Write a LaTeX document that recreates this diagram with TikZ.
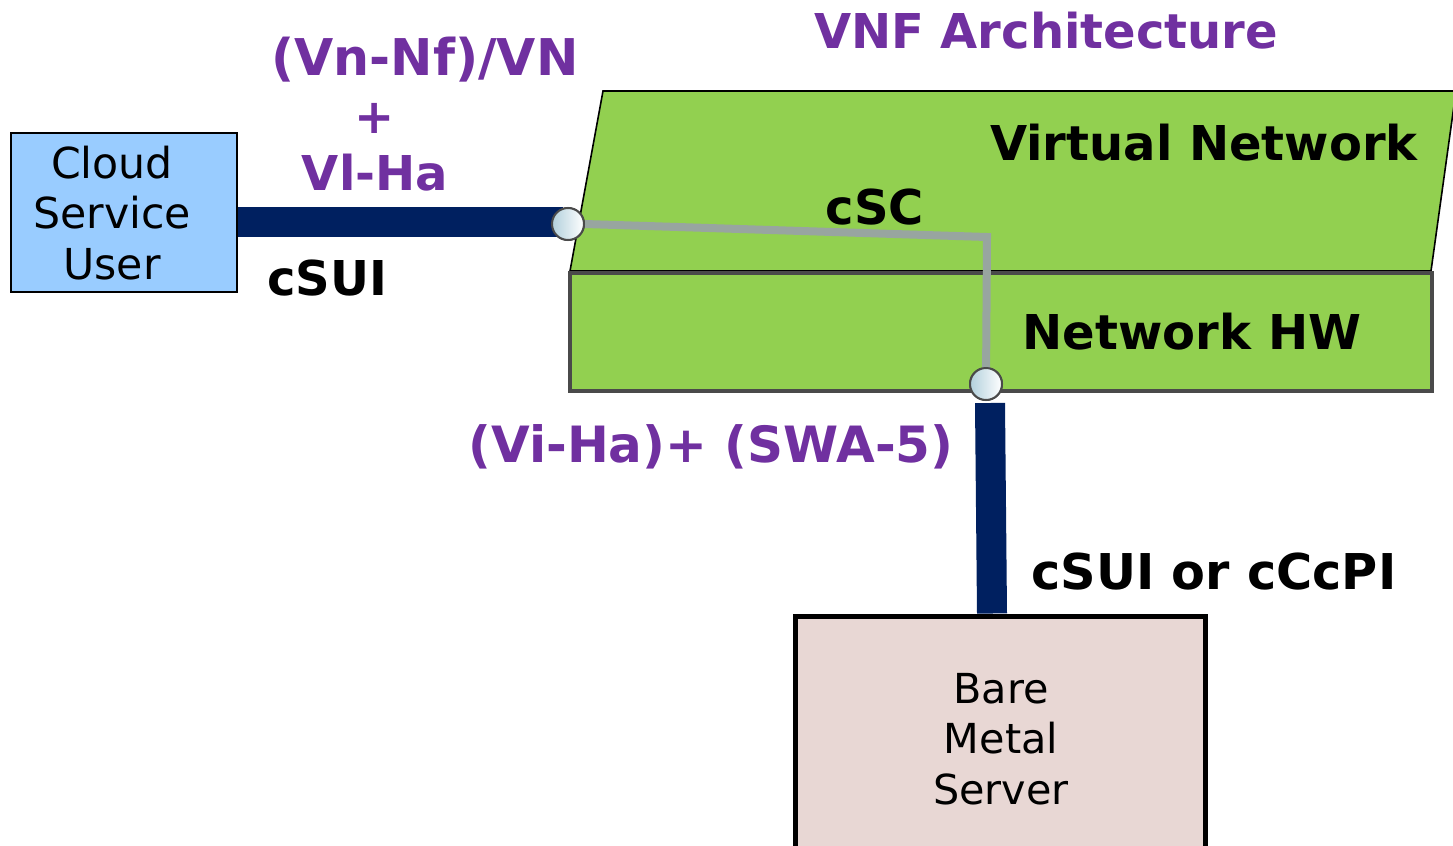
\documentclass[tikz,border=0pt]{standalone}
\usepackage{fontspec}
\setmainfont{DejaVu Sans}
\usetikzlibrary{positioning}

\definecolor{vnfpurple}{RGB}{112,48,160}
\definecolor{barnavy}{RGB}{0,32,96}
\definecolor{layergreen}{RGB}{146,208,80}
\definecolor{userblue}{RGB}{153,204,255}
\definecolor{serverpink}{RGB}{232,215,212}
\definecolor{pathgray}{RGB}{152,165,160}
\definecolor{edgegray}{RGB}{74,74,74}
\definecolor{portblue}{RGB}{178,208,220}

\tikzset{every picture/.style={line width=0.75pt}}
\tikzset{
  boldtxt/.style={font=\fontsize{36}{43}\selectfont\bfseries, inner sep=0.75pt},
  purpletxt/.style={boldtxt, text=vnfpurple},
  boxtxt/.style={font=\fontsize{31}{38}\selectfont, align=center, inner sep=0.75pt},
  navybar/.style={draw=barnavy, line width=22.5pt},
  graypath/.style={draw=pathgray, line width=6pt},
  port/.style={circle, draw=edgegray, line width=1.5pt, minimum size=24pt, inner sep=0pt,
    left color=portblue, right color=white, shading=axis},
}

\begin{document}
\begin{tikzpicture}[x=0.75pt,y=0.75pt,yscale=-1,xscale=1]
\path[use as bounding box] (0,0) rectangle (1453,846);

%Shape: Parallelogram [virtual network layer]
\draw[fill=layergreen, line width=1.2pt] (570,271) -- (603,91) -- (1456,91) -- (1431,271) -- cycle ;
%Shape: Rectangle [network hw layer]
\draw[fill=layergreen, draw=edgegray, line width=3pt] (570,273) rectangle (1432,391) ;

%Shape: Rectangle [cloud service user]
\node[draw=black, fill=userblue, line width=1.5pt, minimum width=169.5pt, minimum height=119pt] (user) at (124,212.5) {};
\node[boxtxt, font=\fontsize{32}{38}\selectfont] (usertxt) at (112,213) {Cloud\\Service\\User};
%Shape: Rectangle [bare metal server]
\node[draw=black, fill=serverpink, line width=3.75pt, minimum width=307.5pt, minimum height=174pt] (server) at (1000,732) {};
\node[boxtxt] (servertxt) at (1001,739) {Bare\\Metal\\Server};

% Ports
\node[port] (porta) at (568,224) {};
\node[port] (portb) at (986,384) {};
\coordinate (bend) at (987,237);

%Straight Lines [cSUI bar]
\draw[navybar] (user.east |- 0,222) -- ([xshift=-4pt]porta.center |- 0,222) ;
%Straight Lines [cSUI or cCcPI bar]
\draw[navybar] (990,403) -- (server.north -| 992,0) ;
%Straight Lines [cSC path]
\draw[graypath] (porta.east) -- (bend) -- (portb.center) ;

% redraw ports on top
\node[port] at (porta) {};
\node[port] at (portb) {};

% Text Node
\node[purpletxt] (title) at (1046,31) {VNF Architecture};
% Text Node
\node[purpletxt, font=\fontsize{38}{43}\selectfont\bfseries] (vnnf) at (425,60) {(Vn-Nf)/VN};
% Text Node
\node[purpletxt] (plus) at (375,118) {+};
% Text Node
\node[purpletxt] (vlha) at (375,173) {Vl-Ha};
% Text Node
\node[boldtxt] (csui) at (327,278) {cSUI};
% Text Node
\node[boldtxt] (csc) at (875,207) {cSC};
% Text Node
\node[boldtxt] (vnet) at (1204,143) {Virtual Network};
% Text Node
\node[boldtxt] (nhw) at (1192,332) {Network HW};
% Text Node
\node[purpletxt, font=\fontsize{37.5}{43}\selectfont\bfseries] (viha) at (711,447) {(Vi-Ha)+ (SWA-5)};
% Text Node
\node[boldtxt, font=\fontsize{37}{43}\selectfont\bfseries] (cccpi) at (1214,572) {cSUI or cCcPI};

\end{tikzpicture}
\end{document}
